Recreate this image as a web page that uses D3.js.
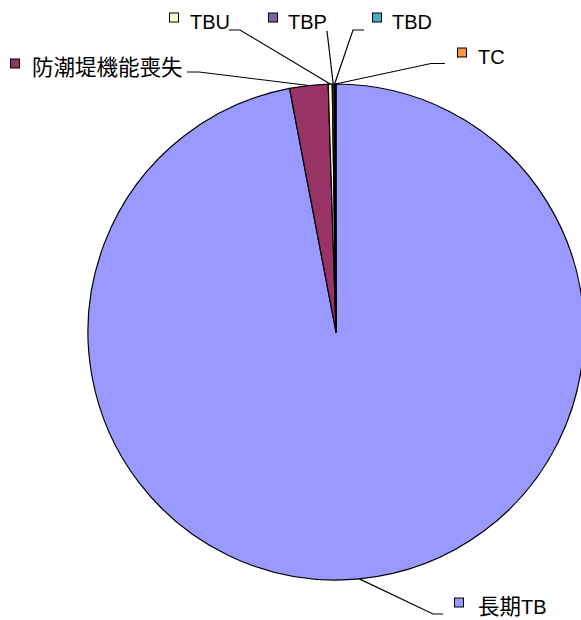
<!DOCTYPE html>
<html>
<head>
<meta charset="utf-8">
<script src="https://cdn.jsdelivr.net/npm/d3@7"></script>
<style>
  html, body { margin: 0; padding: 0; background: #fff; }
  svg { display: block; }
  text { font-family: "Liberation Sans", Arial, "Noto Sans CJK JP", sans-serif; font-size: 20px; fill: #000; }
  tspan.cjk { font-family: "Noto Sans CJK JP", sans-serif; font-size: 21.5px; }
</style>
</head>
<body>
<svg id="chart" width="581" height="620"></svg>
<script>
// ---- data ----
const categories = ["長期TB", "防潮堤機能喪失", "TBU", "TBP", "TBD", "TC"];
const values = [97.0, 2.5, 0.26, 0.12, 0.06, 0.06];
const colors = ["#9999FF", "#993366", "#FFFFCC", "#8064A2", "#4BACC6", "#F79646"];

// ---- layout (label placement) ----
const labelLayout = [
  { sq: 454, tx: 478, base: 614, leader: [[443, 614], [433, 614]] },
  { sq: 10,  tx: 32,  base: 75,  leader: [[187, 72], [199, 72]] },
  { sq: 169, tx: 190, base: 29,  leader: [[229, 30], [240, 30]] },
  { sq: 268, tx: 288, base: 29,  leader: [[327, 31], [327, 31]] },
  { sq: 372, tx: 392, base: 29,  leader: [[364, 30], [353, 30]] },
  { sq: 457, tx: 478, base: 64,  leader: [[445, 63.5], [431, 63.5]] }
];

const cx = 336, cy = 332, r = 248;
const svg = d3.select("#chart");
const g = svg.append("g").attr("transform", `translate(${cx},${cy})`);

const pie = d3.pie().sort(null).value(d => d.value).startAngle(0).endAngle(2 * Math.PI);
const data = categories.map((c, i) => ({ name: c, value: values[i], color: colors[i] }));
const arcs = pie(data);
const arc = d3.arc().innerRadius(0).outerRadius(r);
const edgeArc = d3.arc().innerRadius(r).outerRadius(r);

g.selectAll("path.slice").data(arcs).enter().append("path")
  .attr("class", "slice")
  .attr("d", arc)
  .attr("fill", d => d.data.color)
  .attr("stroke", "#000")
  .attr("stroke-width", 1.2)
  .attr("stroke-linejoin", "round");

// leader lines
const line = d3.line();
arcs.forEach((a, i) => {
  const L = labelLayout[i];
  const p = edgeArc.centroid(a);
  const pts = [L.leader[0], L.leader[1], [p[0] + cx, p[1] + cy]];
  svg.append("path")
    .attr("d", line(pts))
    .attr("fill", "none")
    .attr("stroke", "#000")
    .attr("stroke-width", 1.2);
});

// labels with color keys
const isCJK = ch => /[\u3000-\u9fff\uf900-\ufaff]/.test(ch);
arcs.forEach((a, i) => {
  const L = labelLayout[i];
  svg.append("rect")
    .attr("x", L.sq + 0.5)
    .attr("y", L.base - 16.5 + 0.5)
    .attr("width", 9)
    .attr("height", 9)
    .attr("fill", a.data.color)
    .attr("stroke", "#000")
    .attr("stroke-width", 1);
  const t = svg.append("text").attr("x", L.tx).attr("y", L.base);
  const runs = [];
  for (const ch of a.data.name) {
    const c = isCJK(ch);
    if (runs.length && runs[runs.length - 1].c === c) runs[runs.length - 1].s += ch;
    else runs.push({ c, s: ch });
  }
  runs.forEach(run => {
    t.append("tspan").attr("class", run.c ? "cjk" : null).text(run.s);
  });
});
</script>
</body>
</html>
